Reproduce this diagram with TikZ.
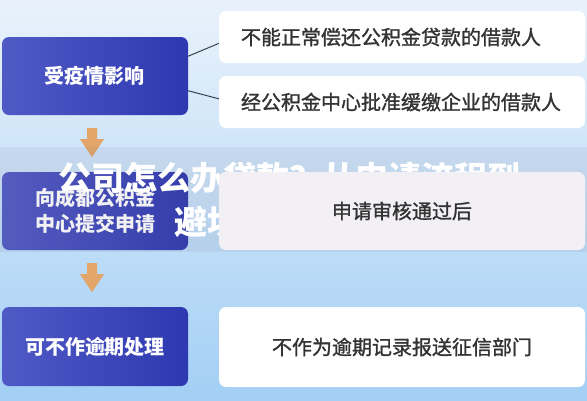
\documentclass[tikz,border=0pt]{standalone}
\usepackage{fontspec}
\newfontfamily\cjk{Noto Sans CJK SC}
\newfontfamily\cjkmid{Noto Sans CJK SC}[FakeBold=1.3]
\usetikzlibrary{calc}
\definecolor{bgtop}{RGB}{233,242,251}
\definecolor{bgbot}{RGB}{163,207,245}
\definecolor{bluel}{RGB}{80,90,198}
\definecolor{bluer}{RGB}{46,56,176}
\definecolor{arrowc}{RGB}{226,165,106}
\definecolor{linec}{RGB}{55,66,82}
\definecolor{textc}{RGB}{51,51,51}
\definecolor{bandc}{RGB}{120,110,135}
\definecolor{boxc}{RGB}{242,240,244}
\def\flowarrow(#1){\fill[arrowc] ($(#1)+(-5,0)$) -- ++(10,0) -- ++(0,11) -- ++(7,0) -- ++(-12,18) -- ++(-12,-18) -- ++(7,0) -- cycle;}

\begin{document}
\begin{tikzpicture}[x=1pt,y=-1pt,
	bluebox/.style={rounded corners=7pt, left color=bluel, right color=bluer, text=white, minimum width=186pt, minimum height=78pt, inner sep=0pt, align=center, font=\cjk\bfseries\fontsize{20}{26}\selectfont},
	whitebox/.style={rounded corners=7pt, fill=white, text=textc, minimum width=366pt, inner sep=0pt, font=\cjkmid\fontsize{20}{26}\selectfont},
	leftbox/.style={whitebox, inner xsep=22pt, text width=322pt, align=left},
	titletext/.style={text=white, inner sep=0pt, font=\cjk\bfseries\fontsize{33}{36}\selectfont}]
				\shade[top color=bgtop, bottom color=bgbot] (0,0) rectangle (587,400);
				
				% left column
				\node[bluebox] (yq) at (95,76) {受疫情影响};
				\node[bluebox] (sq) at (95,211) {向成都公积金\\中心提交申请};
				\node[bluebox, minimum height=79pt] (cl) at (95,346.5) {可不作逾期处理};
				\coordinate (a1) at ($(yq.south)+(-3,13)$);
				\coordinate (a2) at ($(sq.south)+(-3,13)$);
				\flowarrow(a1)
				\flowarrow(a2)
				
				% right column
				\node[leftbox, minimum height=52pt] (ta) at (402,37) {不能正常偿还公积金贷款的借款人};
				\node[leftbox, minimum height=52pt] (tb) at (402,102) {经公积金中心批准缓缴企业的借款人};
				\node[whitebox, minimum height=80pt] (td) at (402,347) {不作为逾期记录报送征信部门};
				\draw[linec, line width=1pt] (yq.12) -- (ta.182);
				\draw[linec, line width=1pt] (yq.-9) -- (tb.179);
				
				% band and title
				\fill[bandc, opacity=0.1] (0,147) rectangle (587,252);
				\node[titletext, anchor=west] (tt1) at (58,178) {公司怎么办贷款？从申请流程到};
				\node[titletext, anchor=west] (tt2) at (174,222) {避坑};
				\node[whitebox, fill=boxc, minimum height=78pt] (tc) at (402,211) {申请审核通过后};
			\end{tikzpicture}
\end{document}
